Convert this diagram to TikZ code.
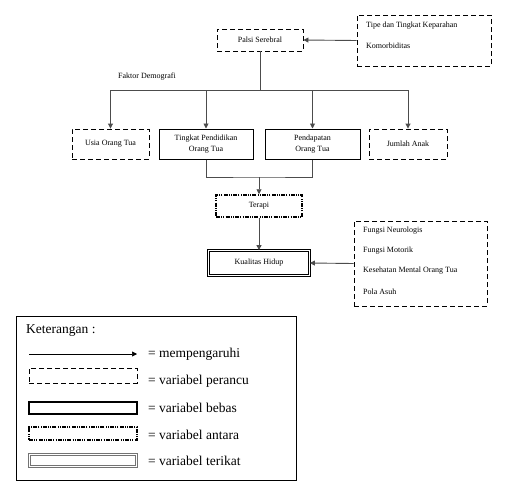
\documentclass[tikz,border=0pt]{standalone}
\usepackage{fontspec}
\setmainfont{Liberation Serif}
\usetikzlibrary{arrows.meta}
\tikzset{
  ln/.style={draw=black!70, line width=0.9pt},
  arr/.style={ln, -{Triangle[length=5pt,width=5pt]}},
  lbl/.style={font=\fontsize{8}{11}\selectfont, inner sep=0pt},
  dbox/.style={draw, line width=0.9pt, dash pattern=on 5pt off 3pt, minimum width=#1, inner sep=0pt},
  sbox/.style={draw, line width=1pt, minimum width=#1, inner sep=0pt, align=center},
  abox/.style={draw, line width=1.5pt, dash pattern=on 4pt off 1.2pt on 1pt off 1.2pt on 1pt off 1.2pt, minimum width=#1, inner sep=0pt},
  tbox/.style={draw, double, line width=0.8pt, double distance=1.6pt, minimum width=#1, inner sep=0pt},
  leg/.style={font=\fontsize{13.5}{15}\selectfont, inner sep=0pt, anchor=west},
}
\begin{document}
\begin{tikzpicture}[x=1pt,y=-1pt]
\useasboundingbox (0,0) rectangle (527,485);
% top
\node[dbox=86pt, minimum height=22pt, lbl] (palsi) at (260,40) {Palsi Serebral};
\node[dbox=134pt, minimum height=51pt] (tipe) at (424,40.5) {};
\node[lbl, anchor=west] (tipe1) at (366,26) {Tipe dan Tingkat Keparahan};
\node[lbl, anchor=west] (tipe2) at (366,46) {Komorbiditas};
\draw[arr] (tipe.west) -- (palsi.east);
\node[lbl] (faktor) at (147,77) {Faktor Demografi};
% demographic boxes
\node[dbox=77pt, minimum height=30pt, lbl] (usia) at (110.5,144) {Usia Orang Tua};
\node[sbox=94pt, minimum height=30pt, lbl] (tingkat) at (206,144) {Tingkat Pendidikan\\Orang Tua};
\node[sbox=95pt, minimum height=30pt, lbl] (pend) at (312.5,144) {Pendapatan\\Orang Tua};
\node[dbox=78pt, minimum height=30pt, lbl] (jumlah) at (408,144) {Jumlah Anak};
\coordinate (j1) at (260,90);
\coordinate (jl) at (usia.north |- j1);
\coordinate (jr) at (jumlah.north |- j1);
\draw[ln] (palsi.south) -- (j1);
\draw[ln] (jl) -- (jr);
\draw[arr] (jl) -- (usia.north);
\draw[arr] (tingkat.north |- j1) -- (tingkat.north);
\draw[arr] (pend.north |- j1) -- (pend.north);
\draw[arr] (jr) -- (jumlah.north);
% terapi
\node[abox=86pt, minimum height=22pt, lbl] (terapi) at (259,206) {Terapi};
\coordinate (j2) at (259,177);
\draw[ln] (tingkat.south) |- (j2) -| (pend.south);
\draw[arr] (j2) -- (terapi.north);
% kualitas
\node[tbox=101pt, minimum height=25pt, lbl] (kual) at (259,263) {Kualitas Hidup};
\draw[arr] (terapi.south) -- (kual.north);
\node[dbox=133pt, minimum height=85pt] (fungsi) at (420.5,263.5) {};
\node[lbl, anchor=west] (f1) at (363,231) {Fungsi Neurologis};
\node[lbl, anchor=west] (f2) at (363,251) {Fungsi Motorik};
\node[lbl, anchor=west] (f3) at (363,271) {Kesehatan Mental Orang Tua};
\node[lbl, anchor=west] (f4) at (363,292) {Pola Asuh};
\draw[arr] (fungsi.west) -- (kual.east);
% legend
\node[draw, line width=0.9pt, minimum width=280pt, minimum height=164pt, inner sep=0pt] (legend) at (156,398) {};
\node[leg] (ket) at (26,331) {Keterangan :};
\coordinate (la1) at (29,354);
\coordinate (la2) at (137,354);
\draw[draw=black, line width=0.6pt, -{Triangle[length=5pt,width=5pt]}] (la1) -- (la2);
\node[leg] (t1) at (148,354) {= mempengaruhi};
\node[dbox=108pt, minimum height=15pt] (l2) at (83,375.5) {};
\node[leg] (t2) at (148,381) {= variabel perancu};
\node[sbox=108pt, minimum height=12pt, line width=1.8pt] (l3) at (83,408) {};
\node[leg] (t3) at (148,408) {= variabel bebas};
\node[abox=108pt, minimum height=13pt] (l4) at (83,433.5) {};
\node[leg] (t4) at (148,435) {= variabel antara};
\node[tbox=107pt, minimum height=12pt, draw=black!55] (l5) at (83,460.5) {};
\node[leg] (t5) at (148,461) {= variabel terikat};
\end{tikzpicture}
\end{document}
